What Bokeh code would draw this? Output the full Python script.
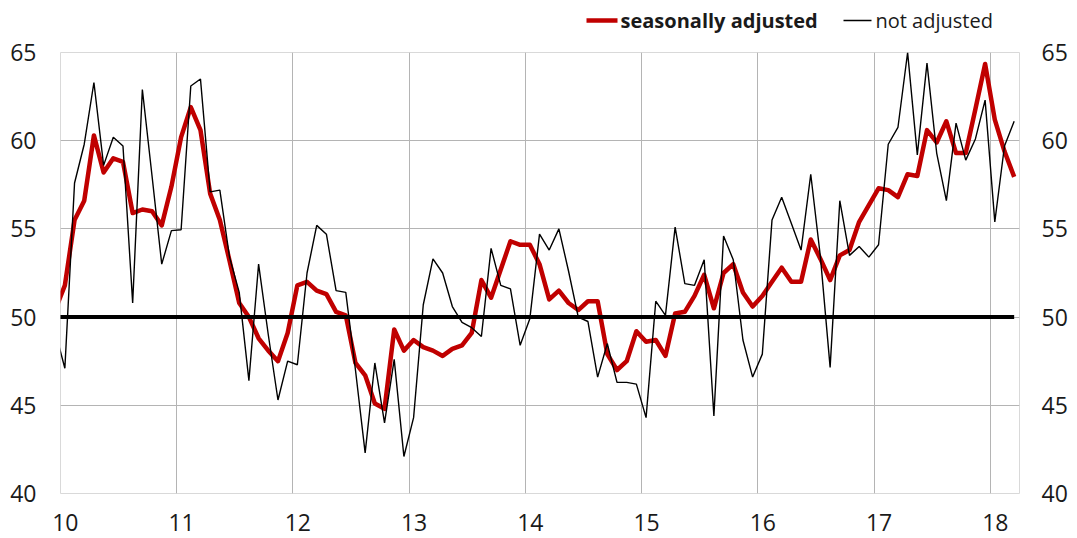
import pandas as pd
from bokeh.plotting import figure
from bokeh.layouts import column
from bokeh.models import Range1d, FixedTicker, LinearAxis, ColumnDataSource
from bokeh.core.properties import value
from bokeh.embed import file_html
from bokeh.resources import INLINE

# ---- data -------------------------------------------------------------
months = [str(m) for m in pd.period_range("2009-12", "2018-03", freq="M")]

seasonally_adjusted = [
    50.4, 51.8, 55.5, 56.6, 60.3, 58.2, 59.0, 58.8, 55.9, 56.1,
    56.0, 55.2, 57.4, 60.2, 61.9, 60.6, 57.0, 55.5, 53.2, 50.8,
    50.0, 48.8, 48.1, 47.5, 49.1, 51.8, 52.0, 51.5, 51.3, 50.3,
    50.1, 47.4, 46.7, 45.1, 44.8, 49.3, 48.1, 48.7, 48.3, 48.1,
    47.8, 48.2, 48.4, 49.1, 52.1, 51.1, 52.7, 54.3, 54.1, 54.1,
    53.0, 51.0, 51.5, 50.8, 50.4, 50.9, 50.9, 47.9, 47.0, 47.5,
    49.2, 48.6, 48.7, 47.8, 50.2, 50.3, 51.2, 52.4, 50.5, 52.5,
    53.0, 51.4, 50.6, 51.2, 52.0, 52.8, 52.0, 52.0, 54.4, 53.3,
    52.1, 53.5, 53.8, 55.4, 56.35, 57.3, 57.2, 56.8, 58.1, 58.0,
    60.6, 59.9, 61.1, 59.3, 59.3, 61.8, 64.35, 61.2, 59.4, 57.95,
]

not_adjusted = [
    49.2, 47.1, 57.6, 59.8, 63.3, 58.6, 60.2, 59.7, 50.8, 62.9,
    58.0, 53.0, 54.9, 54.95, 63.1, 63.5, 57.1, 57.2, 53.4, 51.4,
    46.4, 53.0, 49.0, 45.3, 47.5, 47.3, 52.5, 55.2, 54.7, 51.5,
    51.4, 47.0, 42.3, 47.4, 44.0, 47.6, 42.1, 44.3, 50.7, 53.3,
    52.5, 50.6, 49.7, 49.4, 48.9, 53.9, 51.8, 51.6, 48.4, 49.9,
    54.7, 53.8, 55.0, 52.6, 50.0, 49.75, 46.6, 48.5, 46.3, 46.3,
    46.2, 44.3, 50.9, 50.1, 55.1, 51.9, 51.8, 53.25, 44.4, 54.6,
    53.25, 48.7, 46.6, 47.9, 55.5, 56.8, 55.3, 53.8, 58.1, 53.4,
    47.15, 56.6, 53.5, 54.0, 53.4, 54.1, 59.8, 60.75, 65.0, 59.2,
    64.4, 59.3, 56.6, 61.0, 58.9, 60.1, 62.3, 55.4, 59.7, 61.1,
]

threshold = 50
series_names = ["seasonally adjusted", "not adjusted"]
tick_labels = ["10", "11", "12", "13", "14", "15", "16", "17", "18"]
y_ticks = [40, 45, 50, 55, 60, 65]

# ---- styling / layout constants ----------------------------------------
FONT = "Open Sans"
TXT = "#1a1a1a"
RED = "#c00000"
W = 1077
LEG_H = 35
MAIN_H = 538 - LEG_H
FRAME_L, FRAME_R, FRAME_T, FRAME_B = 60, 1019, 52, 493


# ---- positions (mid-month on a year axis) -----------------------------
def to_x(m):
    y, mo = m.split("-")
    return int(y) - 2000 + (int(mo) - 1 + 0.45) / 12.0


src = ColumnDataSource(dict(
    x=[to_x(m) for m in months],
    sa=seasonally_adjusted,
    nsa=not_adjusted,
    ref=[threshold] * len(months),
))

# ---- legend strip (frame aligned with the main chart's frame) ----------
leg = figure(width=W, height=LEG_H, x_range=Range1d(FRAME_L, FRAME_R), y_range=Range1d(0, LEG_H),
             output_backend="svg", toolbar_location=None,
             min_border_left=FRAME_L, min_border_right=W - FRAME_R,
             min_border_top=0, min_border_bottom=0)
leg.axis.visible = False
leg.grid.visible = False
leg.outline_line_color = None
leg.background_fill_color = "white"
leg.border_fill_color = "white"

ly = LEG_H - 20
leg.segment(x0=[586], y0=[ly], x1=[617], y1=[ly], line_color=RED, line_width=4.5)
leg.text(x=[620], y=[ly], text=[series_names[0]], text_font=value(FONT),
         text_font_size="20px", text_font_style="bold", text_color=TXT,
         text_baseline="middle", text_align="left")
leg.segment(x0=[843], y0=[ly], x1=[871], y1=[ly], line_color="black", line_width=1.4)
leg.text(x=[875], y=[ly], text=[series_names[1]], text_font=value(FONT),
         text_font_size="20px", text_color=TXT,
         text_baseline="middle", text_align="left")

# ---- main chart --------------------------------------------------------
p = figure(width=W, height=MAIN_H, x_range=Range1d(10, 18.25), y_range=Range1d(40, 65),
           output_backend="svg", toolbar_location=None,
           min_border_left=FRAME_L, min_border_right=W - FRAME_R,
           min_border_top=FRAME_T - LEG_H,
           min_border_bottom=MAIN_H - (FRAME_B - LEG_H))
p.background_fill_color = "white"
p.border_fill_color = "white"
p.outline_line_color = "#d9d9d9"
p.outline_line_width = 1

year_ticks = [int(t) + 0.5 / 12 for t in tick_labels]
p.xaxis.ticker = FixedTicker(ticks=year_ticks)
p.xaxis.major_label_overrides = {t: lab for t, lab in zip(year_ticks, tick_labels)}
p.yaxis.ticker = FixedTicker(ticks=y_ticks)
right_axis = LinearAxis(ticker=FixedTicker(ticks=y_ticks))
p.add_layout(right_axis, "right")

for ax in p.xaxis + p.yaxis:
    ax.axis_line_color = None
    ax.major_tick_line_color = None
    ax.minor_tick_line_color = None
    ax.major_label_text_font = FONT
    ax.major_label_text_font_size = "23px"
    ax.major_label_text_color = TXT
p.xaxis.major_label_standoff = 14
p.yaxis[0].major_label_standoff = 18
right_axis.major_label_standoff = 16

p.xgrid.ticker = FixedTicker(ticks=[int(t) for t in tick_labels[1:]])
p.ygrid.ticker = FixedTicker(ticks=y_ticks[1:-1])
p.xgrid.grid_line_color = "#b4b4b4"
p.ygrid.grid_line_color = "#b4b4b4"

p.line("x", "sa", source=src, line_color=RED, line_width=4.5, line_join="round")
p.line("x", "nsa", source=src, line_color="black", line_width=1.4)
p.line("x", "ref", source=src, line_color="black", line_width=4)

layout = column(leg, p, spacing=0)
open("out.html", "w").write(file_html(layout, INLINE))
